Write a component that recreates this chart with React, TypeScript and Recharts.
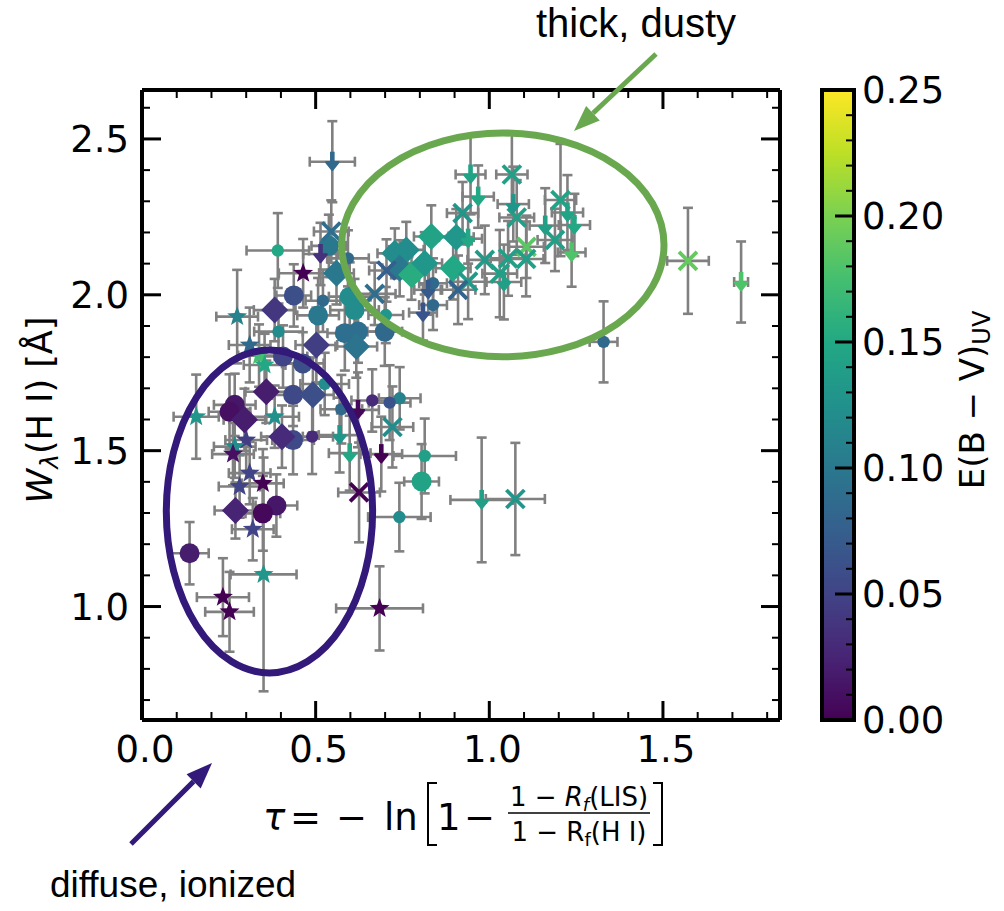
import React from 'react';
import { ScatterChart, Scatter, XAxis, YAxis, ErrorBar } from 'recharts';

const W = 1004;
const H = 911;
// plot box in page pixels
const PLOT = { left: 142, right: 780, top: 90, bottom: 720 };
const X_DOMAIN: [number, number] = [0, 1.837];
const Y_DOMAIN: [number, number] = [0.636, 2.657];
const CB_MAX = 0.25;

// each row: [tau, W(HI), tau err, W err, E(B-V)_UV]
const bigCircles = [
  [0.437, 1.998, 0.05, 0.10, 0.06],
  [0.507, 1.934, 0.06, 0.12, 0.10],
  [0.538, 2.157, 0.05, 0.10, 0.10],
  [0.598, 1.994, 0.06, 0.11, 0.12],
  [0.612, 1.951, 0.07, 0.10, 0.12],
  [0.584, 1.877, 0.05, 0.12, 0.09],
  [0.622, 1.882, 0.06, 0.10, 0.09],
  [0.699, 1.882, 0.05, 0.11, 0.085],
  [0.463, 1.780, 0.06, 0.10, 0.06],
  [0.805, 1.401, 0.05, 0.12, 0.145],
  [0.435, 1.679, 0.06, 0.10, 0.055],
  [0.406, 1.802, 0.07, 0.10, 0.05],
  [0.435, 1.534, 0.06, 0.11, 0.055],
  [0.387, 1.324, 0.06, 0.10, 0.015],
  [0.348, 1.299, 0.05, 0.12, 0.005],
  [0.267, 1.647, 0.06, 0.10, 0.015],
  [0.252, 1.625, 0.06, 0.12, 0.01],
  [0.137, 1.171, 0.055, 0.10, 0.02],
];

const smallCircles = [
  [0.391, 2.142, 0.09, 0.12, 0.15],
  [0.393, 1.882, 0.07, 0.09, 0.12],
  [0.521, 1.981, 0.05, 0.10, 0.085],
  [0.593, 2.117, 0.06, 0.09, 0.085],
  [0.702, 1.935, 0.05, 0.09, 0.13],
  [0.838, 2.037, 0.04, 0.08, 0.085],
  [0.838, 1.967, 0.04, 0.08, 0.085],
  [1.329, 1.849, 0.04, 0.13, 0.085],
  [0.742, 1.668, 0.06, 0.10, 0.11],
  [0.713, 1.654, 0.06, 0.12, 0.065],
  [0.814, 1.483, 0.09, 0.12, 0.14],
  [0.741, 1.287, 0.09, 0.11, 0.12],
  [0.526, 1.714, 0.07, 0.10, 0.12],
  [0.490, 1.545, 0.06, 0.12, 0.03],
  [0.574, 1.633, 0.06, 0.11, 0.085],
  [0.663, 1.661, 0.06, 0.10, 0.03],
];

const diamonds = [
  [0.382, 1.951, 0.06, 0.10, 0.04],
  [0.560, 2.069, 0.05, 0.10, 0.10],
  [0.617, 1.834, 0.06, 0.10, 0.095],
  [0.502, 1.839, 0.06, 0.12, 0.045],
  [0.728, 2.133, 0.05, 0.08, 0.12],
  [0.761, 2.144, 0.05, 0.09, 0.12],
  [0.742, 2.085, 0.05, 0.09, 0.10],
  [0.776, 2.064, 0.05, 0.08, 0.155],
  [0.814, 2.101, 0.05, 0.10, 0.13],
  [0.833, 2.187, 0.05, 0.10, 0.145],
  [0.905, 2.185, 0.05, 0.09, 0.13],
  [0.896, 2.085, 0.05, 0.10, 0.15],
  [0.492, 1.679, 0.06, 0.12, 0.06],
  [0.403, 1.545, 0.06, 0.10, 0.03],
  [0.358, 1.689, 0.06, 0.10, 0.02],
  [0.295, 1.599, 0.06, 0.10, 0.02],
  [0.269, 1.308, 0.06, 0.09, 0.025],
];

const stars = [
  [0.464, 2.069, 0.07, 0.11, 0.0],
  [0.274, 1.930, 0.06, 0.15, 0.11],
  [0.310, 1.839, 0.06, 0.12, 0.085],
  [0.337, 1.805, 0.06, 0.10, 0.175],
  [0.353, 1.775, 0.06, 0.10, 0.15],
  [0.382, 1.609, 0.07, 0.10, 0.125],
  [0.156, 1.609, 0.065, 0.135, 0.13],
  [0.300, 1.534, 0.06, 0.10, 0.045],
  [0.267, 1.513, 0.06, 0.10, 0.12],
  [0.262, 1.489, 0.06, 0.10, 0.01],
  [0.310, 1.428, 0.06, 0.10, 0.05],
  [0.348, 1.395, 0.06, 0.11, 0.0],
  [0.281, 1.385, 0.06, 0.10, 0.05],
  [0.319, 1.248, 0.06, 0.10, 0.05],
  [0.350, 1.103, 0.095, 0.375, 0.13],
  [0.233, 1.030, 0.075, 0.125, 0.0],
  [0.252, 0.983, 0.07, 0.128, 0.0],
  [0.684, 0.994, 0.125, 0.135, 0.0],
];

const crosses = [
  [0.545, 2.203, 0.05, 0.10, 0.09],
  [0.670, 2.003, 0.06, 0.10, 0.09],
  [0.704, 2.078, 0.05, 0.10, 0.075],
  [1.065, 2.386, 0.045, 0.13, 0.14],
  [0.923, 2.262, 0.045, 0.10, 0.13],
  [1.079, 2.248, 0.05, 0.12, 0.14],
  [1.205, 2.304, 0.045, 0.18, 0.145],
  [1.189, 2.176, 0.05, 0.10, 0.14],
  [1.107, 2.154, 0.05, 0.10, 0.185],
  [1.106, 2.115, 0.05, 0.12, 0.14],
  [1.054, 2.117, 0.05, 0.12, 0.14],
  [0.987, 2.112, 0.05, 0.11, 0.135],
  [1.030, 2.068, 0.05, 0.14, 0.14],
  [0.939, 2.042, 0.05, 0.12, 0.135],
  [0.910, 2.016, 0.05, 0.11, 0.08],
  [1.572, 2.109, 0.06, 0.17, 0.19],
  [0.721, 1.576, 0.06, 0.13, 0.12],
  [1.075, 1.345, 0.085, 0.18, 0.13],
  [0.625, 1.366, 0.06, 0.16, 0.0],
];

// upper limits (down arrows)
const arrows = [
  [0.548, 2.427, 0.065, 0.13, 0.085],
  [0.514, 2.131, 0.05, 0.10, 0.035],
  [0.824, 2.016, 0.04, 0.08, 0.07],
  [0.809, 1.943, 0.04, 0.09, 0.065],
  [0.946, 2.386, 0.043, 0.128, 0.145],
  [0.968, 2.315, 0.045, 0.10, 0.15],
  [1.069, 2.291, 0.045, 0.12, 0.13],
  [1.225, 2.264, 0.045, 0.12, 0.145],
  [1.245, 2.224, 0.045, 0.10, 0.15],
  [1.161, 2.222, 0.045, 0.12, 0.14],
  [1.237, 2.136, 0.04, 0.11, 0.18],
  [1.042, 2.041, 0.05, 0.12, 0.14],
  [0.939, 2.180, 0.04, 0.08, 0.15],
  [1.725, 2.041, 0.02, 0.13, 0.18],
  [0.689, 1.489, 0.06, 0.12, 0.0],
  [0.978, 1.342, 0.09, 0.20, 0.14],
  [0.622, 1.631, 0.06, 0.12, 0.005],
  [0.569, 1.550, 0.06, 0.12, 0.13],
  [0.598, 1.492, 0.06, 0.12, 0.15],
];

const xTicks = [0, 0.1, 0.2, 0.3, 0.4, 0.5, 0.6, 0.7, 0.8, 0.9, 1.0, 1.1, 1.2, 1.3, 1.4, 1.5, 1.6, 1.7, 1.8];
const yTicks = [0.7, 0.8, 0.9, 1.0, 1.1, 1.2, 1.3, 1.4, 1.5, 1.6, 1.7, 1.8, 1.9, 2.0, 2.1, 2.2, 2.3, 2.4, 2.5, 2.6];
const cbTicks = [0, 0.01, 0.02, 0.03, 0.04, 0.05, 0.06, 0.07, 0.08, 0.09, 0.1, 0.11, 0.12, 0.13, 0.14, 0.15, 0.16, 0.17, 0.18, 0.19, 0.2, 0.21, 0.22, 0.23, 0.24, 0.25];

// annotation ellipses in data units: [cx, cy, rx, ry]
const dustyEllipse = [1.039, 2.160, 0.464, 0.359];
const diffuseEllipse = [0.367, 1.305, 0.297, 0.518];

const VIRIDIS = ['#440154', '#482475', '#414487', '#355f8d', '#2a788e', '#21918c', '#22a884', '#44bf70', '#7ad151', '#bddf26', '#fde725'];

function viridis(t: number) {
  const v = Math.max(0, Math.min(1, t)) * 10;
  const i = Math.min(9, Math.floor(v));
  const f = v - i;
  const a = VIRIDIS[i], b = VIRIDIS[i + 1];
  const ch = (h: string, k: number) => parseInt(h.slice(1 + 2 * k, 3 + 2 * k), 16);
  const c = [0, 1, 2].map(k => Math.round(ch(a, k) + (ch(b, k) - ch(a, k)) * f));
  return `rgb(${c[0]},${c[1]},${c[2]})`;
}

const toRows = (arr: number[][]) => arr.map(([x, y, xe, ye, c]) => ({ x, y, xe, ye, c }));

const px = (v: number) => PLOT.left + (v - X_DOMAIN[0]) / (X_DOMAIN[1] - X_DOMAIN[0]) * (PLOT.right - PLOT.left);
const py = (v: number) => PLOT.bottom - (v - Y_DOMAIN[0]) / (Y_DOMAIN[1] - Y_DOMAIN[0]) * (PLOT.bottom - PLOT.top);
const cby = (v: number) => PLOT.bottom - v / CB_MAX * (PLOT.bottom - PLOT.top);

const isMajor = (v: number, step: number) => Math.abs(v / step - Math.round(v / step)) < 1e-6;

const FONT = 'DejaVu Sans, sans-serif';
const TICK_FS = 37;

const BottomTick = ({ x, y, payload }: any) => {
  const major = isMajor(payload.value, 0.5);
  return (
    <g>
      <line x1={x} x2={x} y1={y} y2={y - (major ? 19 : 8)} stroke="#000" strokeWidth={major ? 3 : 2} />
      {major && (
        <text x={x + 3} y={y + 42} textAnchor="middle" fontSize={TICK_FS} fontFamily={FONT} fill="#000">
          {payload.value.toFixed(1)}
        </text>
      )}
    </g>
  );
};

const TopTick = ({ x, y, payload }: any) => {
  const major = isMajor(payload.value, 0.5);
  return <line x1={x} x2={x} y1={y} y2={y + (major ? 19 : 8)} stroke="#000" strokeWidth={major ? 3 : 2} />;
};

const LeftTick = ({ x, y, payload }: any) => {
  const major = isMajor(payload.value, 0.5);
  return (
    <g>
      <line x1={x} x2={x + (major ? 19 : 8)} y1={y} y2={y} stroke="#000" strokeWidth={major ? 3 : 2} />
      {major && (
        <text x={x - 13} y={y + 13} textAnchor="end" fontSize={TICK_FS} fontFamily={FONT} fill="#000">
          {payload.value.toFixed(1)}
        </text>
      )}
    </g>
  );
};

const RightTick = ({ x, y, payload }: any) => {
  const major = isMajor(payload.value, 0.5);
  return <line x1={x} x2={x - (major ? 19 : 8)} y1={y} y2={y} stroke="#000" strokeWidth={major ? 3 : 2} />;
};

const colorOf = (p: any) => viridis(p.c / CB_MAX);

const BigCircle = (p: any) => <circle cx={p.cx} cy={p.cy} r={10} fill={colorOf(p.payload)} />;
const SmallCircle = (p: any) => <circle cx={p.cx} cy={p.cy} r={6.2} fill={colorOf(p.payload)} />;
const Diamond = (p: any) => {
  const s = 13.5;
  return <polygon points={`${p.cx},${p.cy - s} ${p.cx + s},${p.cy} ${p.cx},${p.cy + s} ${p.cx - s},${p.cy}`} fill={colorOf(p.payload)} />;
};
const Star = (p: any) => {
  const pts: string[] = [];
  for (let i = 0; i < 10; i++) {
    const r = i % 2 === 0 ? 10.5 : 4.4;
    const a = -Math.PI / 2 + i * Math.PI / 5;
    pts.push(`${p.cx + r * Math.cos(a)},${p.cy + r * Math.sin(a)}`);
  }
  return <polygon points={pts.join(' ')} fill={colorOf(p.payload)} />;
};
const Cross = (p: any) => {
  const s = 9;
  const col = colorOf(p.payload);
  return (
    <g stroke={col} strokeWidth={3.8}>
      <line x1={p.cx - s} y1={p.cy - s} x2={p.cx + s} y2={p.cy + s} />
      <line x1={p.cx - s} y1={p.cy + s} x2={p.cx + s} y2={p.cy - s} />
    </g>
  );
};
const Arrow = (p: any) => {
  const col = colorOf(p.payload);
  const { cx, cy } = p;
  return (
    <g fill={col} stroke={col}>
      <rect x={cx - 2.3} y={cy - 10} width={4.6} height={11} strokeWidth={0} />
      <path d={`M${cx - 6},${cy + 0.5} L${cx + 6},${cy + 0.5} L${cx},${cy + 8} Z`} strokeWidth={2.5} strokeLinejoin="round" />
    </g>
  );
};

const series = [
  { name: 'stars', rows: stars, shape: Star },
  { name: 'big', rows: bigCircles, shape: BigCircle },
  { name: 'small', rows: smallCircles, shape: SmallCircle },
  { name: 'diamonds', rows: diamonds, shape: Diamond },
  { name: 'crosses', rows: crosses, shape: Cross },
  { name: 'arrows', rows: arrows, shape: Arrow },
];

const ArrowAnno = ({ x1, y1, x2, y2, color }: any) => {
  const ang = Math.atan2(y2 - y1, x2 - x1);
  const L = 26, Wd = 10;
  const bx = x2 - L * Math.cos(ang), by = y2 - L * Math.sin(ang);
  const nx = -Math.sin(ang), ny = Math.cos(ang);
  return (
    <g>
      <line x1={x1} y1={y1} x2={bx} y2={by} stroke={color} strokeWidth={5} />
      <polygon points={`${x2},${y2} ${bx + nx * Wd},${by + ny * Wd} ${bx - nx * Wd},${by - ny * Wd}`} fill={color} />
    </g>
  );
};

const Overlay = () => {
  const ell = (e: number[], color: string) => (
    <ellipse
      cx={px(e[0])}
      cy={py(e[1])}
      rx={px(e[0] + e[2]) - px(e[0])}
      ry={py(e[1]) - py(e[1] + e[3])}
      fill="none"
      stroke={color}
      strokeWidth={7}
    />
  );
  const cbW = 32;
  const cbX = 822;
  return (
    <svg width={W} height={H} style={{ position: 'absolute', left: 0, top: 0, pointerEvents: 'none' }}>
      <defs>
        <linearGradient id="vir" x1="0" y1="1" x2="0" y2="0">
          {VIRIDIS.map((c, i) => (
            <stop key={i} offset={i / 10} stopColor={c} />
          ))}
        </linearGradient>
      </defs>
      {ell(dustyEllipse, '#6aa84f')}
      {ell(diffuseEllipse, '#32197a')}

      <ArrowAnno x1={656} y1={54} x2={574} y2={131} color="#6aa84f" />
      <ArrowAnno x1={131} y1={844} x2={212} y2={763} color="#32197a" />
      <text x={636} y={37} textAnchor="middle" fontSize={40} fontFamily="Liberation Sans, Arial, sans-serif">thick, dusty</text>
      <text x={173} y={897} textAnchor="middle" fontSize={37} fontFamily="Liberation Sans, Arial, sans-serif">diffuse, ionized</text>

      {/* y label */}
      <text transform="translate(52,410) rotate(-90)" textAnchor="middle" fontSize={35} fontFamily={FONT}>
        <tspan fontStyle="italic">W</tspan>
        <tspan fontSize={25} dy={6} fontStyle="italic">λ</tspan>
        <tspan dy={-6}>(H I) [Å]</tspan>
      </text>

      {/* x label */}
      <g fontFamily={FONT} fill="#000">
        <text x={263} y={830} fontSize={37} fontStyle="italic">τ</text>
        <text x={290} y={830} fontSize={37}>=</text>
        <text x={336} y={830} fontSize={37}>−</text>
        <text x={384} y={830} fontSize={37}>ln</text>
        <path d="M437,783 H428 V845 H437" stroke="#000" strokeWidth={2} fill="none" />
        <text x={437} y={830} fontSize={37}>1</text>
        <text x={464} y={830} fontSize={37}>−</text>
        <text x={579} y={806} fontSize={26} textAnchor="middle">
          1 − <tspan fontStyle="italic">R</tspan>
          <tspan fontSize={18} dy={5} fontStyle="italic">f</tspan>
          <tspan dy={-5}>(LIS)</tspan>
        </text>
        <line x1={508} x2={650} y1={813} y2={813} stroke="#000" strokeWidth={1.6} />
        <text x={579} y={841} fontSize={26} textAnchor="middle">
          1 − R<tspan fontSize={18} dy={5}>f</tspan>
          <tspan dy={-5}>(H I)</tspan>
        </text>
        <path d="M653,783 H662 V845 H653" stroke="#000" strokeWidth={2} fill="none" />
      </g>

      {/* colorbar */}
      <rect x={cbX} y={PLOT.top} width={cbW} height={PLOT.bottom - PLOT.top} fill="url(#vir)" stroke="#000" strokeWidth={4} />
      {cbTicks.map(t => {
        const major = isMajor(t, 0.05);
        const y = cby(t);
        return (
          <g key={t}>
            <line x1={cbX + cbW} x2={cbX + cbW - (major ? 19 : 8)} y1={y} y2={y} stroke="#000" strokeWidth={major ? 3 : 2} />
            {major && (
              <text x={cbX + cbW + 8} y={y + 13} fontSize={TICK_FS} fontFamily={FONT}>
                {t.toFixed(2)}
              </text>
            )}
          </g>
        );
      })}
      <text transform="translate(984,400) rotate(-90)" textAnchor="middle" fontSize={34} fontFamily={FONT}>
        E(B − V)<tspan fontSize={24} dy={6}>UV</tspan>
      </text>
    </svg>
  );
};

export default function App() {
  return (
    <div style={{ position: 'absolute', left: 0, top: 0, width: W, height: H, background: '#fff' }}>
      <ScatterChart
        width={W}
        height={H}
        margin={{ top: PLOT.top - 10, right: W - PLOT.right - 10, bottom: H - PLOT.bottom - 40, left: PLOT.left - 60 }}
      >
        <XAxis
          xAxisId="b"
          type="number"
          dataKey="x"
          domain={X_DOMAIN}
          allowDataOverflow
          ticks={xTicks}
          interval={0}
          height={40}
          tickSize={0}
          tickMargin={0}
          tickLine={false}
          axisLine={{ stroke: '#000', strokeWidth: 4 }}
          tick={(p: any) => <BottomTick {...p} />}
        />
        <XAxis
          xAxisId="t"
          orientation="top"
          type="number"
          dataKey="x"
          domain={X_DOMAIN}
          allowDataOverflow
          ticks={xTicks}
          interval={0}
          height={10}
          tickSize={0}
          tickMargin={0}
          tickLine={false}
          axisLine={{ stroke: '#000', strokeWidth: 4 }}
          tick={(p: any) => <TopTick {...p} />}
        />
        <YAxis
          yAxisId="l"
          type="number"
          dataKey="y"
          domain={Y_DOMAIN}
          allowDataOverflow
          ticks={yTicks}
          interval={0}
          width={60}
          tickSize={0}
          tickMargin={0}
          tickLine={false}
          axisLine={{ stroke: '#000', strokeWidth: 4 }}
          tick={(p: any) => <LeftTick {...p} />}
        />
        <YAxis
          yAxisId="r"
          orientation="right"
          type="number"
          dataKey="y"
          domain={Y_DOMAIN}
          allowDataOverflow
          ticks={yTicks}
          interval={0}
          width={10}
          tickSize={0}
          tickMargin={0}
          tickLine={false}
          axisLine={{ stroke: '#000', strokeWidth: 4 }}
          tick={(p: any) => <RightTick {...p} />}
        />
        {series.map(s => (
          <Scatter
            key={s.name}
            name={s.name}
            data={toRows(s.rows)}
            xAxisId="b"
            yAxisId="l"
            shape={s.shape}
            isAnimationActive={false}
          >
            <ErrorBar dataKey="xe" direction="x" stroke="#808080" strokeWidth={2.6} width={5} isAnimationActive={false} />
            <ErrorBar dataKey="ye" direction="y" stroke="#808080" strokeWidth={2.6} width={5} isAnimationActive={false} />
          </Scatter>
        ))}
      </ScatterChart>
      <Overlay />
    </div>
  );
}
